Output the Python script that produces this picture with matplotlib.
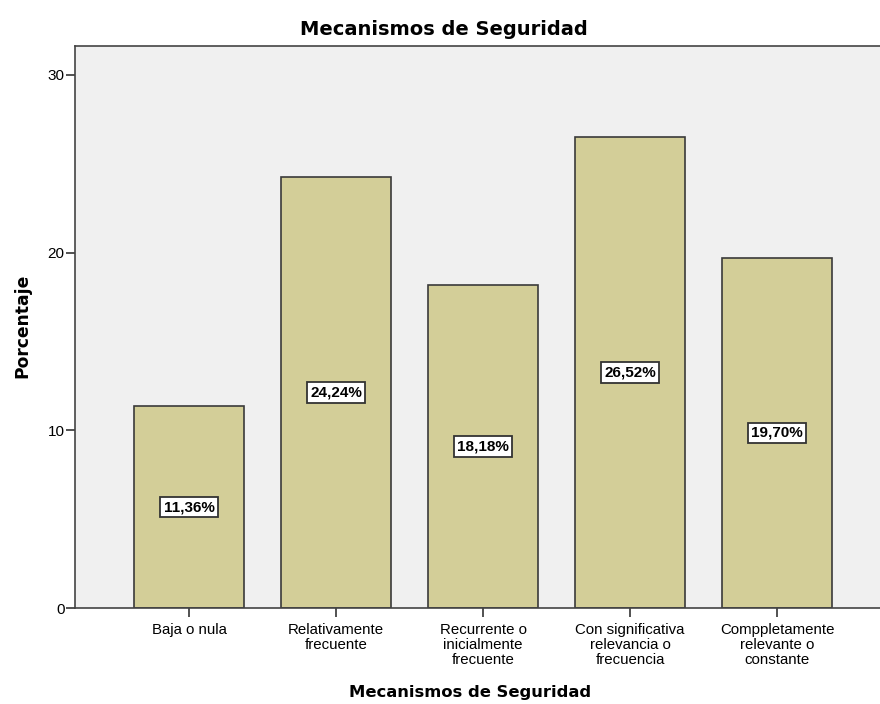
import matplotlib
matplotlib.use("Agg")
import matplotlib.pyplot as plt

categories = [
    "Baja o nula",
    "Relativamente\nfrecuente",
    "Recurrente o\ninicialmente\nfrecuente",
    "Con significativa\nrelevancia o\nfrecuencia",
    "Comppletamente\nrelevante o\nconstante",
]
percentages = [11.36, 24.24, 18.18, 26.52, 19.70]
y_ticks = [0, 10, 20, 30]

TITLE = "Mecanismos de Seguridad"
BAR_COLOR = "#d3ce98"
EDGE = "#3a3a3a"
WIDE = ["DejaVu Sans"]

plt.rcParams["font.family"] = ["Liberation Sans", "DejaVu Sans"]

fig = plt.figure(figsize=(8.8, 7.04), dpi=100)
ax = fig.add_axes([75 / 880, 96 / 704, 805 / 880, 562 / 704])
ax.set_facecolor("#f0f0f0")

pos = list(range(len(categories)))
ax.bar(pos, percentages, width=0.748, color=BAR_COLOR, edgecolor=EDGE,
       linewidth=1.2, zorder=2)

for x, v in zip(pos, percentages):
    ax.text(x, v / 2, f"{v:.2f}%".replace(".", ","), ha="center", va="center",
            fontsize=11, fontweight="bold", color="black", zorder=3,
            bbox=dict(boxstyle="square,pad=0.22", facecolor="white",
                      edgecolor="#333333", linewidth=1.3))

ax.set_xlim(-0.776, 4.70)
ax.set_ylim(0, 31.63)
ax.set_yticks(y_ticks)
ax.set_xticks(pos)
ax.set_xticklabels(categories, fontsize=10.8, linespacing=1.12)
ax.tick_params(axis="y", labelsize=11, length=6.5, width=1.2, color="#333333", pad=1)
ax.tick_params(axis="x", length=6.5, width=1.2, color="#333333", pad=4)

for side in ("left", "top", "bottom"):
    ax.spines[side].set_color("#444444")
    ax.spines[side].set_linewidth(1.2)
ax.spines["right"].set_visible(False)

fig.text(0.504, 0.958, TITLE, ha="center", va="center", fontsize=14,
         fontweight="bold", family=WIDE)
fig.text(0.534, 0.017, TITLE, ha="center", va="center", fontsize=11.8,
         fontweight="bold", family=WIDE)
fig.text(0.025, 0.537, "Porcentaje", ha="center", va="center", rotation=90,
         fontsize=12.3, fontweight="bold", family=WIDE)

fig.savefig("out.png", dpi=100)
